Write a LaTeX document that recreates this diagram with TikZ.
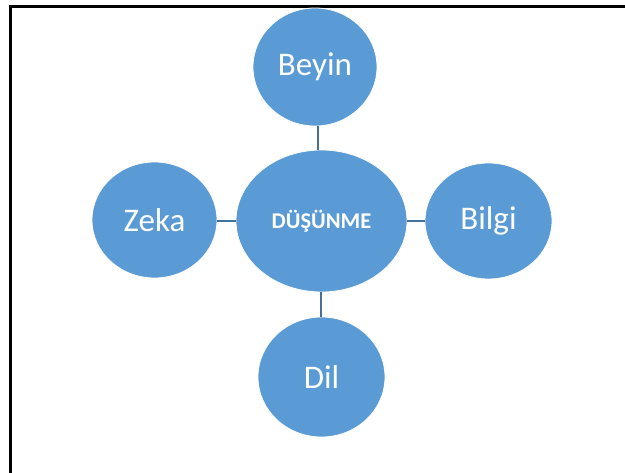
\documentclass[tikz,border=0pt]{standalone}
\usepackage{fontspec}
\setmainfont{Carlito}
\usetikzlibrary{shapes.geometric}
\definecolor{bluefill}{HTML}{5B9BD5}
\definecolor{linkcol}{HTML}{41719C}
\tikzset{
  bubble/.style={ellipse, fill=bluefill, draw=white, line width=0.8pt, inner sep=0pt, text=white, font=\fontsize{33}{36}\selectfont},
  link/.style={draw=linkcol, line width=1.6pt}
}
\begin{document}
\begin{tikzpicture}[x=1pt,y=-1pt]
\useasboundingbox (0,0) rectangle (625,473);
\fill[white] (0,0) rectangle (625,473);
\draw[line width=3pt] (10,473) -- (10,6.5) -- (625,6.5);
\node[bubble, minimum width=171pt, minimum height=142pt, font=\bfseries\fontsize{22.5}{25}\selectfont] (c) at (321.5,221) {DÜŞÜNME};
\node[bubble, minimum width=124pt, minimum height=118pt] (b) at (315,67) {Beyin};
\node[bubble, minimum width=125pt, minimum height=116pt] (z) at (154.5,220) {Zeka};
\node[bubble, minimum width=127pt, minimum height=116pt] (g) at (488.5,221) {Bilgi};
\node[bubble, minimum width=127pt, minimum height=120pt] (d) at (321.5,377) {Dil};
\draw[link] (b.south -| 318,0) -- (c.north -| 318,0);
\draw[link] (z.east |- 0,221) -- (c.west |- 0,221);
\draw[link] (c.east |- 0,221) -- (g.west |- 0,221);
\draw[link] (c.south -| 321,0) -- (d.north -| 321,0);
\end{tikzpicture}
\end{document}
